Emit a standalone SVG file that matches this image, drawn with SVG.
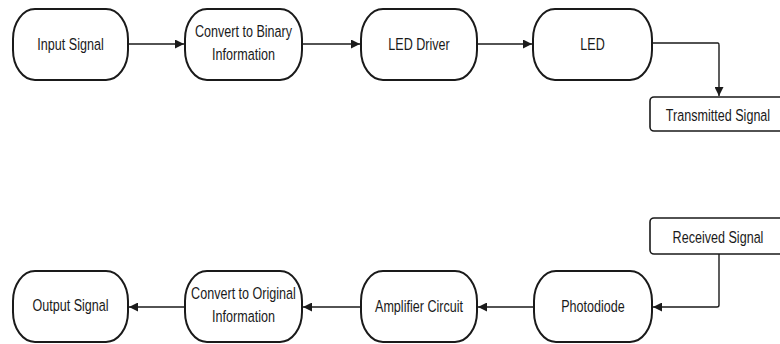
<svg xmlns="http://www.w3.org/2000/svg" width="780" height="344" viewBox="0 0 780 344">
<style>
.n{fill:#fff;stroke:#1a1a1a;stroke-width:2}
.b{fill:#fff;stroke:#1a1a1a;stroke-width:1.6}
.t{font-family:"Liberation Sans",Arial,sans-serif;font-size:17px;fill:#1a1a1a;text-anchor:middle}
.c{fill:none;stroke:#1a1a1a;stroke-width:1.4}
</style>
<defs>
<marker id="ah" viewBox="0 0 10 10" refX="10" refY="5" markerWidth="9" markerHeight="9" markerUnits="userSpaceOnUse" orient="auto">
<path d="M0,0L10,5L0,10z" fill="#1a1a1a"/>
</marker>
</defs>
<rect width="780" height="344" fill="#fff"/>
<g id="connectors">
<path class="c" d="M128,44H184" marker-end="url(#ah)"/>
<path class="c" d="M302,44H360" marker-end="url(#ah)"/>
<path class="c" d="M477,44H532" marker-end="url(#ah)"/>
<path class="c" d="M652,43H718Q719,43 719,45V96" marker-end="url(#ah)"/>
<path class="c" d="M719,254V305Q719,307 717,307H653" marker-end="url(#ah)"/>
<path class="c" d="M534,307H478" marker-end="url(#ah)"/>
<path class="c" d="M361,307H303" marker-end="url(#ah)"/>
<path class="c" d="M185,307H129" marker-end="url(#ah)"/>
</g>
<g id="input-signal"><rect class="n" x="13" y="9" width="115" height="71" rx="22" ry="30"/><text class="t" transform="translate(70.5,50) scale(0.74,1)">Input Signal</text></g>
<g id="convert-binary"><rect class="n" x="185" y="9" width="117" height="71" rx="22" ry="30"/><text class="t" transform="translate(243.5,37) scale(0.74,1)">Convert to Binary</text><text class="t" transform="translate(243.5,60) scale(0.74,1)">Information</text></g>
<g id="led-driver"><rect class="n" x="361" y="9" width="116" height="71" rx="22" ry="30"/><text class="t" transform="translate(419,50) scale(0.74,1)">LED Driver</text></g>
<g id="led"><rect class="n" x="533" y="9" width="119" height="71" rx="22" ry="30"/><text class="t" transform="translate(592.5,50) scale(0.74,1)">LED</text></g>
<g id="transmitted-signal"><rect class="b" x="650" y="97" width="140" height="34" rx="4"/><text class="t" transform="translate(718,121) scale(0.74,1)">Transmitted Signal</text></g>
<g id="received-signal"><rect class="b" x="650" y="218" width="140" height="36" rx="4"/><text class="t" transform="translate(718,243) scale(0.74,1)">Received Signal</text></g>
<g id="photodiode"><rect class="n" x="534" y="271" width="118" height="71" rx="22" ry="30"/><text class="t" transform="translate(593,312) scale(0.74,1)">Photodiode</text></g>
<g id="amplifier-circuit"><rect class="n" x="361" y="271" width="116" height="71" rx="22" ry="30"/><text class="t" transform="translate(419,312) scale(0.74,1)">Amplifier Circuit</text></g>
<g id="convert-original"><rect class="n" x="185" y="271" width="117" height="71" rx="22" ry="30"/><text class="t" transform="translate(243.5,299) scale(0.74,1)">Convert to Original</text><text class="t" transform="translate(243.5,322) scale(0.74,1)">Information</text></g>
<g id="output-signal"><rect class="n" x="13" y="271" width="115" height="71" rx="22" ry="30"/><text class="t" transform="translate(70.5,311) scale(0.74,1)">Output Signal</text></g>
</svg>
